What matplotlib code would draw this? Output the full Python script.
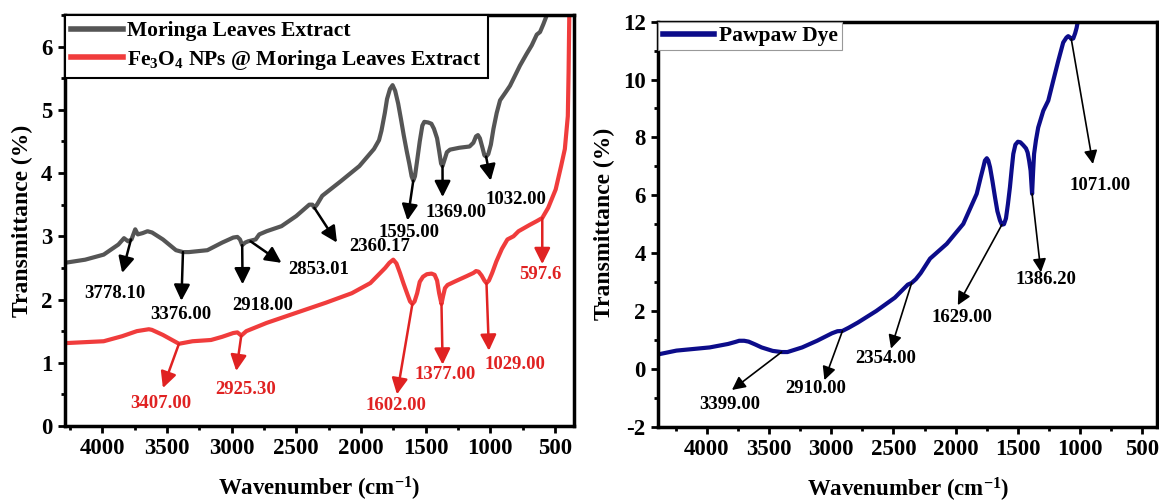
import matplotlib
matplotlib.use("Agg")
import matplotlib.pyplot as plt
from matplotlib.ticker import MultipleLocator

# ---------------- FTIR data (wavenumber cm-1, transmittance %) ----------------
moringa_wn = [4290, 4132, 3989, 3875, 3832, 3800, 3774, 3745, 3725, 3688, 3650, 3615,
              3531, 3430, 3376, 3330, 3187, 3073, 2987, 2955, 2935, 2918, 2895, 2873,
              2814, 2786, 2729, 2614, 2500, 2399, 2375, 2360, 2340, 2299, 2156, 2012,
              1899, 1860, 1841, 1815, 1798, 1775, 1755, 1735, 1712, 1690, 1669, 1646,
              1626, 1608, 1595, 1582, 1565, 1545, 1525, 1510, 1480, 1455, 1435, 1411,
              1395, 1380, 1369, 1355, 1335, 1311, 1239, 1160, 1130, 1110, 1095, 1080,
              1060, 1045, 1032, 1015, 995, 975, 950, 924, 880, 847, 770, 720, 679, 640,
              615, 590, 558]
moringa_t = [2.58, 2.63, 2.71, 2.87, 2.97, 2.92, 2.95, 3.11, 3.03, 3.05, 3.08, 3.06,
             2.95, 2.78, 2.75, 2.75, 2.78, 2.90, 2.98, 2.99, 2.95, 2.86, 2.90, 2.92,
             2.95, 3.03, 3.08, 3.16, 3.32, 3.50, 3.50, 3.45, 3.50, 3.64, 3.87, 4.11,
             4.38, 4.52, 4.67, 4.95, 5.17, 5.33, 5.39, 5.30, 5.10, 4.85, 4.60, 4.35,
             4.15, 3.95, 3.88, 3.95, 4.20, 4.50, 4.75, 4.81, 4.80, 4.78, 4.70, 4.55,
             4.35, 4.15, 4.11, 4.20, 4.33, 4.37, 4.40, 4.42, 4.48, 4.58, 4.60, 4.55,
             4.40, 4.28, 4.26, 4.30, 4.45, 4.70, 4.95, 5.15, 5.28, 5.38, 5.70, 5.88,
             6.02, 6.19, 6.23, 6.35, 6.52]

fe3o4_wn = [4290, 3989, 3846, 3732, 3640, 3616, 3531, 3407, 3302, 3159, 3073, 2987,
            2955, 2925, 2886, 2729, 2500, 2270, 2070, 1927, 1812, 1780, 1750, 1725,
            1698, 1670, 1640, 1620, 1602, 1585, 1565, 1545, 1520, 1490, 1454, 1430,
            1411, 1395, 1377, 1365, 1350, 1330, 1268, 1182, 1130, 1110, 1090, 1067,
            1045, 1029, 1010, 985, 953, 910, 867, 820, 781, 695, 640, 597.6, 552, 494,
            452, 423, 400, 394, 388]
fe3o4_t = [1.31, 1.34, 1.42, 1.50, 1.53, 1.52, 1.44, 1.30, 1.34, 1.36, 1.41, 1.47,
           1.48, 1.43, 1.50, 1.63, 1.79, 1.95, 2.10, 2.26, 2.50, 2.58, 2.63, 2.57,
           2.42, 2.25, 2.08, 1.97, 1.93, 1.97, 2.10, 2.28, 2.36, 2.40, 2.41, 2.39,
           2.30, 2.10, 1.93, 2.05, 2.18, 2.23, 2.29, 2.37, 2.42, 2.45, 2.44, 2.38,
           2.30, 2.26, 2.30, 2.42, 2.60, 2.80, 2.95, 3.00, 3.08, 3.18, 3.24, 3.29,
           3.45, 3.74, 4.11, 4.38, 4.90, 5.60, 6.60]

pawpaw_wn = [4390, 4244, 3977, 3829, 3770, 3740, 3700, 3664, 3610, 3560, 3471, 3399,
             3352, 3234, 3114, 2994, 2950, 2910, 2860, 2786, 2638, 2489, 2385, 2354,
             2320, 2281, 2206, 2072, 1939, 1831, 1800, 1778, 1765, 1750, 1738, 1724,
             1705, 1684, 1665, 1644, 1629, 1612, 1596, 1580, 1564, 1550, 1537, 1520,
             1500, 1480, 1457, 1435, 1422, 1410, 1398, 1390, 1386, 1378, 1370, 1355,
             1337, 1296, 1256, 1216, 1176, 1136, 1110, 1096, 1080, 1071, 1055, 1040,
             1028, 1010]
pawpaw_t = [0.50, 0.63, 0.74, 0.86, 0.93, 0.97, 0.97, 0.94, 0.84, 0.74, 0.62, 0.58,
            0.58, 0.74, 0.97, 1.23, 1.30, 1.31, 1.42, 1.60, 2.00, 2.46, 2.91, 2.97,
            3.10, 3.31, 3.81, 4.32, 5.01, 6.05, 6.60, 6.97, 7.20, 7.28, 7.20, 6.97,
            6.50, 5.93, 5.45, 5.13, 4.98, 5.00, 5.20, 5.70, 6.28, 6.90, 7.43, 7.75,
            7.85, 7.83, 7.73, 7.62, 7.48, 7.20, 6.85, 6.30, 6.05, 6.80, 7.43, 7.90,
            8.34, 8.92, 9.27, 9.96, 10.64, 11.28, 11.45, 11.50, 11.45, 11.40, 11.42, 11.60,
            11.79, 12.20]

# peak labels: text, arrow start (x, y), arrow tip (x, y), text position (x, y)
moringa_peaks = ["3778.10", "3376.00", "2918.00", "2853.01", "2360.17", "1595.00", "1369.00", "1032.00"]
moringa_start = [(3778, 2.95), (3376, 2.75), (2918, 2.86), (2853, 2.92), (2360, 3.45), (1595, 3.88), (1369, 4.11), (1032, 4.26)]
moringa_tip = [(3846, 2.42), (3388, 1.98), (2915, 2.24), (2614, 2.58), (2185, 2.90), (1640, 3.25), (1368, 3.62), (996, 3.88)]
moringa_text = [(3906, 2.10), (3394, 1.76), (2757, 1.90), (2328, 2.47), (1855, 2.84), (1628, 3.06), (1268, 3.37), (800, 3.58)]

fe3o4_peaks = ["3407.00", "2925.30", "1602.00", "1377.00", "1029.00", "597.6"]
fe3o4_start = [(3407, 1.30), (2925, 1.43), (1602, 1.93), (1377, 1.93), (1029, 2.26), (597.6, 3.29)]
fe3o4_tip = [(3531, 0.60), (2964, 0.87), (1721, 0.50), (1368, 0.97), (1010, 1.19), (597.6, 2.56)]
fe3o4_text = [(3546, 0.36), (2889, 0.58), (1726, 0.32), (1350, 0.82), (810, 0.97), (609, 2.39)]

pawpaw_peaks = ["3399.00", "2910.00", "2354.00", "1629.00", "1386.20", "1071.00"]
pawpaw_start = [(3399, 0.58), (2910, 1.31), (2354, 2.97), (1629, 4.98), (1386, 6.05), (1071, 11.40)]
pawpaw_tip = [(3798, -0.73), (3055, -0.39), (2520, 0.70), (1983, 2.20), (1315, 3.34), (897, 7.08)]
pawpaw_text = [(3817, -1.25), (3122, -0.67), (2563, 0.37), (1953, 1.79), (1278, 3.08), (841, 6.33)]

# ---------------- style ----------------
SERIF = "Liberation Serif"
plt.rcParams["font.family"] = [SERIF, "DejaVu Serif"]
plt.rcParams["font.weight"] = "bold"
plt.rcParams["axes.unicode_minus"] = False
plt.rcParams["mathtext.fontset"] = "custom"
plt.rcParams["mathtext.rm"] = SERIF + ":bold"
plt.rcParams["mathtext.bf"] = SERIF + ":bold"
plt.rcParams["mathtext.default"] = "rm"

GRAY = "#555555"
RED = "#f03c3c"
RED_TXT = "#e02222"
NAVY = "#0c0c8a"

fig = plt.figure(figsize=(11.59, 5.04), dpi=100)
ax1 = fig.add_axes([0.0561, 0.1548, 0.4394, 0.8155])
ax2 = fig.add_axes([0.5680, 0.1534, 0.4305, 0.8036])


def style_axes(ax, ylim, ymajor, yminor, xlim):
    ax.set_xlim(*xlim)
    ax.set_ylim(*ylim)
    ax.xaxis.set_major_locator(MultipleLocator(500))
    ax.xaxis.set_minor_locator(MultipleLocator(250))
    ax.yaxis.set_major_locator(MultipleLocator(ymajor))
    ax.yaxis.set_minor_locator(MultipleLocator(yminor))
    for sp in ax.spines.values():
        sp.set_linewidth(2.5)
    ax.tick_params(which="major", direction="out", length=5, width=2, labelsize=16.5, pad=4)
    ax.tick_params(which="minor", direction="out", length=3, width=2)
    ax.tick_params(top=False, right=False, which="both")
    for lab in ax.get_xticklabels() + ax.get_yticklabels():
        lab.set_fontweight("bold")
    ax.set_xlabel("Wavenumber (cm$^{-1}$)", fontsize=16.5, fontweight="bold", labelpad=11)
    ax.set_ylabel("Transmittance (%)", fontsize=17, fontweight="bold", labelpad=6)


def add_peaks(ax, labels, starts, tips, texts, color, lw, size):
    for lab, s, t, p in zip(labels, starts, tips, texts):
        ax.annotate("", xy=t, xytext=s,
                    arrowprops=dict(arrowstyle="-|>", color=color, lw=lw,
                                    mutation_scale=size, shrinkA=0, shrinkB=0))
        ax.text(p[0], p[1], lab, color=color, fontsize=13.5, fontweight="bold",
                ha="center", va="center")


# ---------------- left: Moringa / Fe3O4 ----------------
ax1.plot(moringa_wn, moringa_t, color=GRAY, lw=3, solid_joinstyle="round",
         label="Moringa Leaves Extract")
ax1.plot(fe3o4_wn, fe3o4_t, color=RED, lw=3, solid_joinstyle="round",
         label="Fe$_3$O$_4$ NPs @ Moringa Leaves Extract")
style_axes(ax1, (0, 6.5), 1, 0.5, (4288, 350))
add_peaks(ax1, moringa_peaks, moringa_start, moringa_tip, moringa_text, "black", 1.8, 24)
add_peaks(ax1, fe3o4_peaks, fe3o4_start, fe3o4_tip, fe3o4_text, RED_TXT, 1.8, 24)
leg1 = ax1.legend(loc="upper left", borderaxespad=0, fancybox=False, framealpha=1,
                  edgecolor="black", prop={"family": SERIF, "weight": "bold", "size": 15.5},
                  handlelength=2.4, handletextpad=0.2, borderpad=0.3, labelspacing=0.3)
leg1.get_frame().set_linewidth(1.5)
for h in leg1.get_lines():
    h.set_linewidth(4)

# ---------------- right: Pawpaw dye ----------------
ax2.plot(pawpaw_wn, pawpaw_t, color=NAVY, lw=3, solid_joinstyle="round", label="Pawpaw Dye")
style_axes(ax2, (-2, 12), 2, 1, (4390, 380))
add_peaks(ax2, pawpaw_peaks, pawpaw_start, pawpaw_tip, pawpaw_text, "black", 1.2, 20)
leg2 = ax2.legend(loc="upper left", borderaxespad=0, fancybox=False, framealpha=1,
                  edgecolor="#999999", prop={"family": SERIF, "weight": "bold", "size": 15.5},
                  handlelength=2.4, handletextpad=0.2, borderpad=0.2)
leg2.get_frame().set_linewidth(0.8)
for h in leg2.get_lines():
    h.set_linewidth(4)

fig.savefig("out.png", dpi=100)
